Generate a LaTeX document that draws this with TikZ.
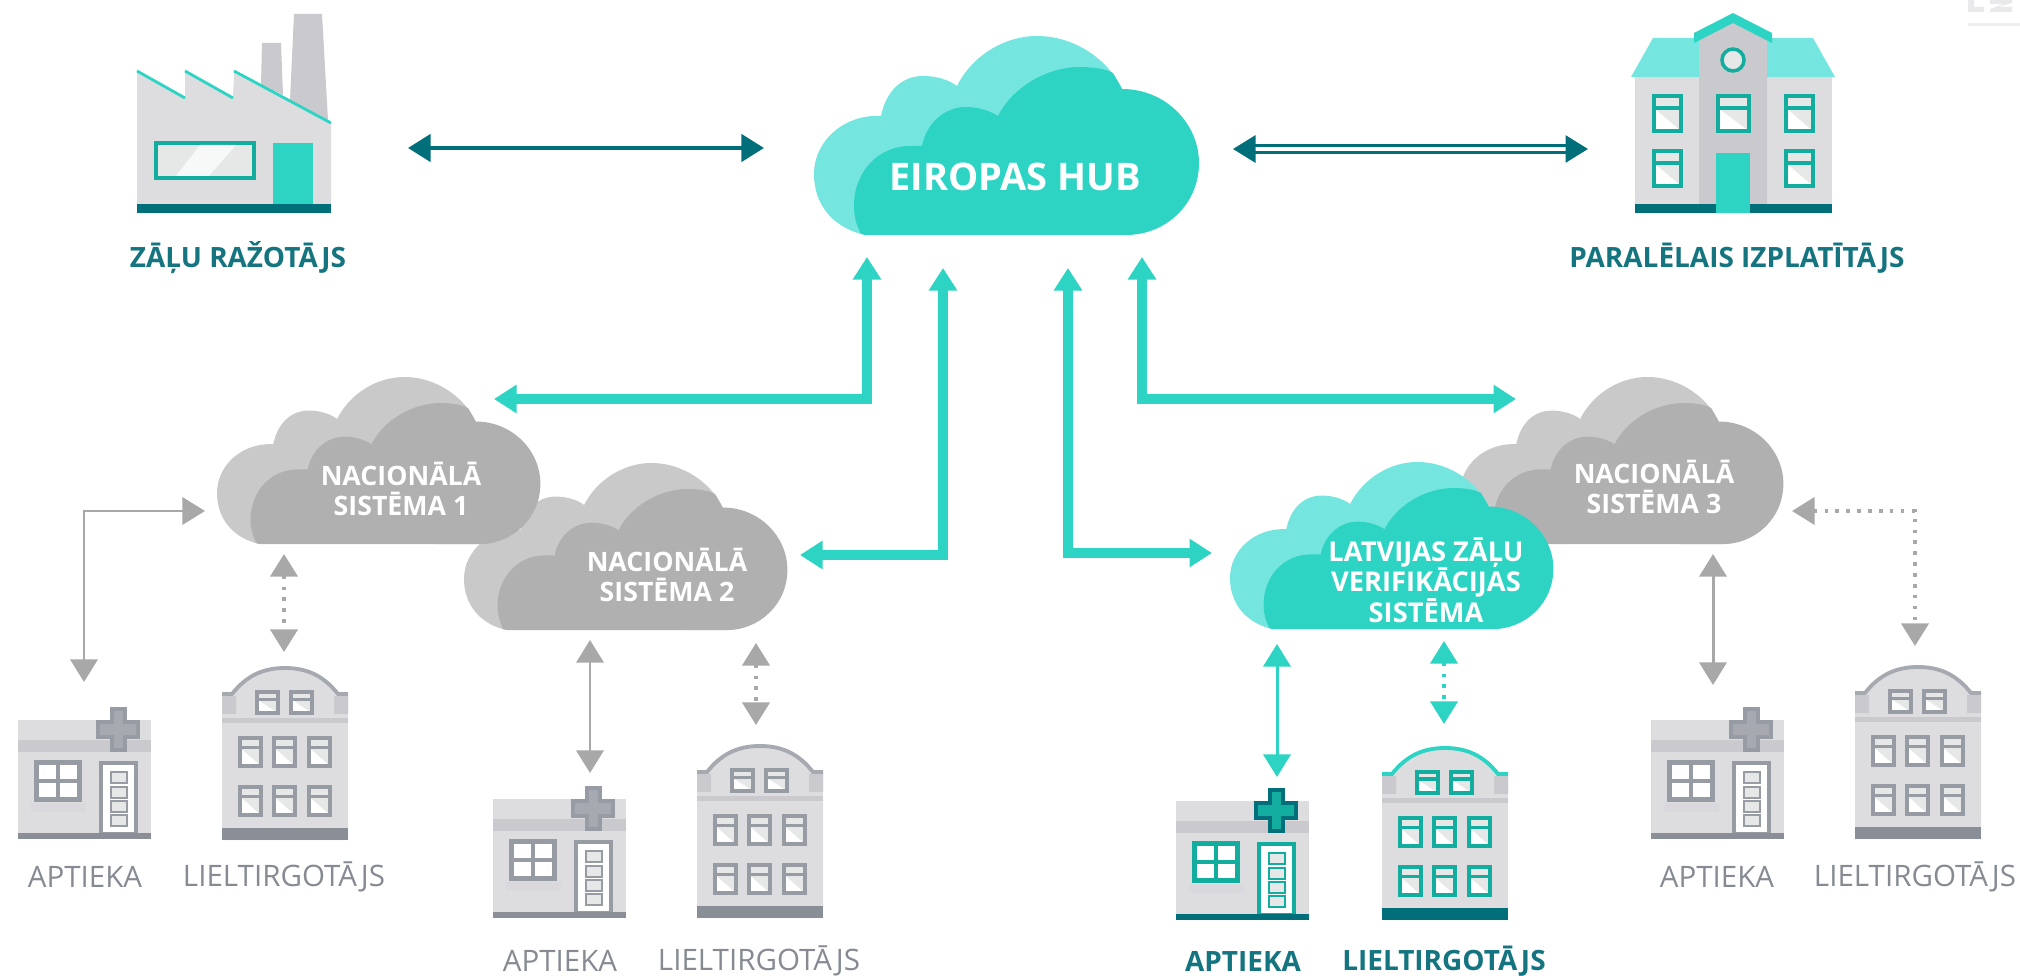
\documentclass[tikz,border=0pt]{standalone}
\usepackage{fontspec}
\setmainfont{Open Sans}
\usetikzlibrary{
    positioning,
    arrows.meta
    }

\definecolor{aqua}{HTML}{2DD4C3}
\definecolor{aqualight}{HTML}{74E6DF}
\definecolor{deepteal}{HTML}{006F7A}
\definecolor{framegreen}{HTML}{12AD9E}
\definecolor{wallgrey}{HTML}{DDDDE0}
\definecolor{bandgrey}{HTML}{C9C9CE}
\definecolor{panegrey}{HTML}{E6E8E8}
\definecolor{cloudgrey}{HTML}{B0B0B0}
\definecolor{cloudlight}{HTML}{C9C9C9}
\definecolor{arrowgrey}{HTML}{A8A8A8}
\definecolor{iconframe}{HTML}{979BA3}
\definecolor{iconbase}{HTML}{8A8E96}
\definecolor{crossgrey}{HTML}{A6A9B0}
\definecolor{textgrey}{HTML}{868B93}
\definecolor{textteal}{HTML}{14747F}

\begin{document}
\begin{tikzpicture}[x=0.01cm, y=-0.01cm, >={Triangle[length=6.4pt, width=7.7pt]}]
\tikzset{link/.style =
        {
            deepteal,
            line width=1.1pt,
            <->
        }
}

\tikzset{twin/.style =
        {
            deepteal,
            line width=0.8pt,
            double=white,
            double distance=1pt,
            <->
        }
}

\tikzset{bus/.style =
        {
            aqua,
            line width=2.8pt,
            <->
        }
}

\tikzset{feed/.style =
        {
            arrowgrey,
            line width=0.85pt,
            <->
        }
}

\tikzset{feed dot/.style =
        {
            feed,
            line width=1pt,
            dash pattern=on 1pt off 2.1pt
        }
}

\tikzset{cloud text/.style =
        {
            text=white,
            font=\bfseries\fontsize{7.6}{8.3}\selectfont,
            align=center,
            inner sep=0pt
        }
}

\tikzset{grey label/.style =
        {
            text=textgrey,
            font=\fontsize{8.4}{9}\selectfont,
            inner sep=0pt
        }
}

\tikzset{teal label/.style =
        {
            text=textteal,
            font=\bfseries\fontsize{7.95}{9}\selectfont,
            inner sep=0pt
        }
}

\tikzset{pics/cloud/.style 2 args = {
            code = {
                    \fill [#1] (47,198) .. controls (18,190) and (0,168) .. (0,138)
                    .. controls (0,105) and (30,78) .. (67,80)
                    .. controls (72,55) and (88,40) .. (109,40)
                    .. controls (123,40) and (135,44) .. (143,50)
                    .. controls (158,20) and (190,0) .. (223,0)
                    .. controls (262,0) and (295,25) .. (308,53) -- (312,199) -- cycle;
                    \fill [#2] (308,53) .. controls (352,53) and (385,88) .. (385,127)
                    .. controls (385,168) and (352,199) .. (312,199) -- (56,199)
                    .. controls (52,199) and (49,199) .. (47,198)
                    .. controls (42,188) and (40,180) .. (40,170)
                    .. controls (40,135) and (65,110) .. (96,110) -- (108,110)
                    .. controls (112,88) and (130,71) .. (152,71)
                    .. controls (165,71) and (176,75) .. (184,80)
                    .. controls (198,52) and (232,31) .. (266,31)
                    .. controls (280,31) and (292,33) .. (299,37) -- cycle;
                }
        }
}

\tikzset{pics/sash/.style n args = {4}{
            code = {
                    \fill [white] (0,0) rectangle (#1,#2);
                    \fill [panegrey] (0,0) rectangle (#1,0.34*#2);
                    \fill [panegrey] (0,0.34*#2) -- (#1,0.34*#2) -- (#1,#2) -- cycle;
                    \draw [#3, line width=#4] (0,0.34*#2) -- (#1,0.34*#2);
                    \draw [#3, line width=#4] (0,0) rectangle (#1,#2);
                }
        }
}

\tikzset{pics/pharmacy/.style n args = {4}{
            code = {
                    \fill [wallgrey] (0,12) rectangle (133,131);
                    \fill [bandgrey] (0,32) rectangle (133,44);
                    \draw [#3, line width=0.9pt, fill=#4] (94,1) -- (107,1) -- (107,14) -- (120,14) -- (120,29)
                    -- (107,29) -- (107,42) -- (94,42) -- (94,29) -- (80,29) -- (80,14) -- (94,14) -- cycle;
                    \fill [bandgrey!70] (13,95) rectangle (68,104);
                    \draw [#1, line width=1.4pt, fill=white] (18.5,54.5) rectangle (61.5,91.5);
                    \draw [#1, line width=1.2pt] (40,54) -- (40,92) (18,73) -- (62,73);
                    \draw [#1, line width=1pt, fill=white] (83,55) rectangle (118,126);
                    \foreach \y in {64,79,93,107}
                    \draw [#1, line width=0.8pt, fill=panegrey] (93,\y) rectangle (109,\y+11);
                    \fill [#2] (0,125) rectangle (133,131);
                }
        }
}

\tikzset{pics/wholesale/.style n args = {4}{
            code = {
                    \fill [wallgrey] (0,29) -- (10,29) .. controls (25,10) and (42,3) .. (63,3)
                    .. controls (84,3) and (101,10) .. (116,29) -- (126,29) -- (126,175) -- (0,175) -- cycle;
                    \fill [bandgrey] (0,31) rectangle (14,49) (112,31) rectangle (126,49);
                    \fill [bandgrey] (0,53) rectangle (126,58);
                    \draw [#2, line width=1.1pt] (0,29) -- (10,29) .. controls (25,10) and (42,3) .. (63,3)
                    .. controls (84,3) and (101,10) .. (116,29) -- (126,29);
                    \foreach \x in {35,69}
                    \path (\x,27) pic {sash={21}{21}{#1}{#4}};
                    \foreach \x in {18,52,87}
                    {
                        \path (\x,73) pic {sash={21}{28}{#1}{#4}};
                        \path (\x,122) pic {sash={21}{28}{#1}{#4}};
                    }
                    \fill [#3] (0,163) rectangle (126,175);
                }
        }
}

\useasboundingbox (0,0) rectangle (2020,976);

% maker
\fill [bandgrey] (294,14) -- (322,14) -- (328,120) -- (290,100) -- cycle;
\fill [bandgrey] (262,43) -- (281,43) -- (283,95) -- (261,85) -- cycle;
\fill [wallgrey] (137,71) -- (185,98) -- (185,71) -- (233,98) -- (234,71) -- (331,123) -- (331,213) -- (137,213) -- cycle;
\draw [aqua, line width=0.8pt] (137,71) -- (185,98) (185,71) -- (233,98) (234,71) -- (331,123);
\draw [framegreen, line width=1pt, fill=panegrey] (156,143) rectangle (254,178);
\fill [white, opacity=0.7] (176,176) -- (200,145) -- (236,145) -- (209,176) -- cycle;
\fill [aqua] (273,143) rectangle (313,204);
\fill [deepteal] (137,204) rectangle (331,213);
\node [teal label] (maker) at (238,258) {ZĀĻU RAŽOTĀJS};

% distributor
\fill [wallgrey] (1635,77) rectangle (1832,213);
\fill [aqualight] (1631,77) -- (1653,38) -- (1813,38) -- (1835,77) -- cycle;
\fill [bandgrey] (1699,204) -- (1699,37) -- (1733,20) -- (1767,37) -- (1767,204) -- cycle;
\fill [aqua] (1694,33) -- (1733,13) -- (1772,33) -- (1772,43) -- (1733,23) -- (1694,43) -- cycle;
\draw [framegreen, line width=1pt, fill=panegrey] (1733,60) circle [radius=11];
\foreach \x / \y / \w in {1654/96/27, 1718/96/31, 1786/96/27, 1654/151/27, 1786/151/27}
\path (\x,\y) pic {sash={\w}{35}{framegreen}{1pt}};
\fill [deepteal] (1635,204) rectangle (1832,213);
\fill [aqua] (1716,153) rectangle (1750,213);
\node [teal label] (distributor) at (1737,258) {PARALĒLAIS IZPLATĪTĀJS};

\fill [bandgrey!40] (1968,0) -- (1974,0) -- (1974,7) -- (1984,7) -- (1984,12) -- (1968,12) -- cycle;
\fill [bandgrey!40] (1990,0) -- (2012,0) -- (2012,3) -- (1998,7) -- (2012,7) -- (2012,12) -- (1990,12) -- (1990,9) -- (2004,4) -- (1990,4) -- cycle;
\fill [bandgrey!30] (1968,23) rectangle (2020,26);

\path (464,463) pic [scale=0.84] {cloud={cloudlight}{cloudgrey}};
\path (217,377) pic [scale=0.84] {cloud={cloudlight}{cloudgrey}};
\path (1460,377) pic [scale=0.84] {cloud={cloudlight}{cloudgrey}};
\path (1230,462) pic [scale=0.84] {cloud={aqualight}{aqua}};
\path (814,36) pic {cloud={aqualight}{aqua}};

\node [cloud text, font=\bfseries\fontsize{10.8}{12}\selectfont] (hub) at (1015,177) {EIROPAS HUB};
\node [cloud text] (nac1) at (401,489) {NACIONĀLĀ\\SISTĒMA 1};
\node [cloud text] (nac2) at (667,575) {NACIONĀLĀ\\SISTĒMA 2};
\node [cloud text] (nac3) at (1654,487) {NACIONĀLĀ\\SISTĒMA 3};
\node [cloud text, font=\bfseries\fontsize{7.75}{8.6}\selectfont] (lat) at (1426,580) {LATVIJAS ZĀĻU\\VERIFIKĀCIJAS\\SISTĒMA};

\path (18,708) pic {pharmacy={iconframe}{iconbase}{iconframe}{crossgrey}};
\path (493,787) pic {pharmacy={iconframe}{iconbase}{iconframe}{crossgrey}};
\path (1176,789) pic {pharmacy={framegreen}{deepteal}{deepteal}{framegreen}};
\path (1651,708) pic {pharmacy={iconframe}{iconbase}{iconframe}{crossgrey}};

\path (222,665) pic {wholesale={iconframe}{crossgrey}{iconbase}{0.9pt}};
\path (697,743) pic {wholesale={iconframe}{crossgrey}{iconbase}{0.9pt}};
\path (1382,745) pic {wholesale={framegreen}{aqua}{deepteal}{1.05pt}};
\path (1855,664) pic {wholesale={iconframe}{crossgrey}{iconbase}{0.9pt}};

\foreach \name / \x / \text in {apt1/85/APTIEKA, lie1/284/LIELTIRGOTĀJS, apt4/1717/APTIEKA, lie4/1915/LIELTIRGOTĀJS}
\node [grey label] (\name) at (\x,877) {\text};
\foreach \name / \x / \text in {apt2/560/APTIEKA, lie2/759/LIELTIRGOTĀJS}
\node [grey label] (\name) at (\x,961) {\text};
\foreach \name / \x / \text in {apt3/1243/APTIEKA, lie3/1444/LIELTIRGOTĀJS}
\node [teal label] (\name) at (\x,961) {\text};

\foreach \name / \x / \y in
	{maker-e/408/148, hub-w/764/148, hub-e/1233/149, distributor-w/1588/149,
		hub-a/867/257, nac1-e/494/399, hub-b/943/268, nac2-e/800/555,
		hub-c/1068/268, lat-w/1212/553, hub-d/1142/257, nac3-n/1516/399,
		nac1-w/205/511, apt1-n/84/682, nac1-s/284/554, lie1-n/284/652,
		nac2-a/590/640, apt2-n/590/773, nac2-b/756/643, lie2-n/756/725,
		lat-a/1277/644, apt3-n/1277/777, lat-b/1444/641, lie3-n/1444/724,
		nac3-a/1713/554, apt4-n/1713/685, nac3-e/1792/511, lie4-n/1915/646}
\coordinate (\name) at (\x,\y);

\draw [link] (maker-e) -- (hub-w);
\draw [twin] (hub-e) -- (distributor-w);

\foreach \start / \finish in {hub-a/nac1-e, hub-b/nac2-e, hub-c/lat-w, hub-d/nac3-n}
\draw [bus] (\start) |- (\finish);

\draw [feed] (nac1-w) -| (apt1-n);
\draw [feed dot] (nac3-e) -| (lie4-n);

\foreach \start / \finish in {nac2-a/apt2-n, nac3-a/apt4-n}
\draw [feed] (\start) -- (\finish);
\foreach \start / \finish in {nac1-s/lie1-n, nac2-b/lie2-n}
\draw [feed dot] (\start) -- (\finish);

\draw [feed, aqua] (lat-a) -- (apt3-n);
\draw [feed dot, aqua] (lat-b) -- (lie3-n);
\end{tikzpicture}
\end{document}
